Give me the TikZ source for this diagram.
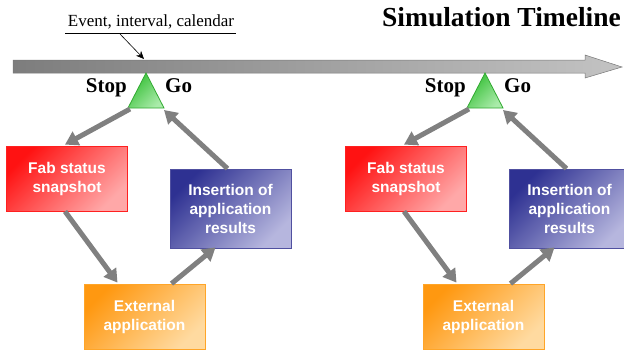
\documentclass[tikz,border=0pt]{standalone}
\usepackage{fontspec}
\setmainfont{Liberation Serif}
\newfontfamily\boxfont{Liberation Sans}
\usetikzlibrary{arrows.meta,calc}
\definecolor{arrgray}{HTML}{808080}
\definecolor{redA}{HTML}{FF1212}
\definecolor{redB}{HTML}{FFA8A8}
\definecolor{redD}{HTML}{FF2020}
\definecolor{blueA}{HTML}{2E3192}
\definecolor{blueB}{HTML}{B6B6DE}
\definecolor{blueD}{HTML}{5050A0}
\definecolor{orA}{HTML}{FF9810}
\definecolor{orB}{HTML}{FFDAA0}
\definecolor{orD}{HTML}{FFA528}
\definecolor{grA}{HTML}{32BE32}
\definecolor{grB}{HTML}{AAEBAA}
\definecolor{grD}{HTML}{32AA32}
\definecolor{tlA}{HTML}{7D7D7D}
\definecolor{tlB}{HTML}{C3C3C3}
\definecolor{tlD}{HTML}{787878}
\tikzset{
  procbox/.style={draw=#1, line width=0.8pt, minimum width=121pt, inner sep=0pt,
    text=white, font=\boxfont\bfseries\fontsize{15.5}{19}\selectfont, align=center},
  redbox/.style={procbox=redD, left color=redA, right color=redB, shading angle=45, minimum height=65pt},
  bluebox/.style={procbox=blueD, left color=blueA, right color=blueB, shading angle=45, minimum height=79pt},
  orangebox/.style={procbox=orD, left color=orA, right color=orB, shading angle=45, minimum height=65pt},
  flow/.style={draw=arrgray, line width=5pt, -{Triangle[length=13pt,width=15pt]}},
  stopgo/.style={font=\bfseries\fontsize{21}{21}\selectfont, inner sep=0pt},
  trig/.style={draw=grD, line width=0.8pt, left color=grA, right color=grB, shading angle=45},
}
\begin{document}
\begin{tikzpicture}[x=1pt,y=-1pt]
\useasboundingbox (0,0) rectangle (624,349);
% timeline arrow
\path[draw=tlD, line width=0.5pt, left color=tlA, right color=tlB]
  (13,60) -- (585,60) -- (585,55) -- (622,67) -- (585,78) -- (585,73) -- (13,73) -- cycle;
% title
\node[anchor=base east, font=\bfseries\fontsize{27.5}{27.5}\selectfont, inner sep=0pt] (title) at (621,26) {Simulation Timeline};
% event label
\node[font=\fontsize{17}{17}\selectfont, inner sep=0pt, anchor=base] (ev) at (151,26) {Event, interval, calendar};
\coordinate (ul) at (65,33);
\coordinate (ur) at (236,33);
\draw[line width=0.6pt] (ul) -- (ur);
\coordinate (evs) at (120,34);
\coordinate (evt) at (144,59);
\draw[line width=0.6pt, -{Stealth[length=8pt,width=7pt]}] (evs) -- (evt);

\foreach \dx/\s in {0/a,339/b} {
  \begin{scope}[xshift=\dx pt]
  \coordinate (top\s) at (146,73);
  \coordinate (bl\s) at (128,108);
  \coordinate (br\s) at (164,108);
  \path[trig] (top\s) -- (br\s) -- (bl\s) -- cycle;
  \node[stopgo, anchor=base east] (stop\s) at (127,92) {Stop};
  \node[stopgo, anchor=base west] (go\s) at (165,92) {Go};
  \node[redbox] (fab\s) at (67,178.5) {Fab status\\snapshot};
  \node[bluebox] (ins\s) at (230.5,208.5) {Insertion of\\application\\results};
  \node[orangebox] (ext\s) at (144.5,316.5) {External\\application};
  \coordinate (a1s\s) at (130,109);
  \draw[flow] (a1s\s) -- ($(fab\s.north)+(-2,-1)$);
  \draw[flow] ($(fab\s.south)+(-2,0)$) -- ($(ext\s.north)+(-27,-1)$);
  \draw[flow] ($(ext\s.north)+(27,0)$) -- ($(ins\s.south)+(-15,-1)$);
  \coordinate (a4e\s) at (164,110);
  \draw[flow] ($(ins\s.north)+(-3,0)$) -- (a4e\s);
  \end{scope}
}
\end{tikzpicture}
\end{document}
